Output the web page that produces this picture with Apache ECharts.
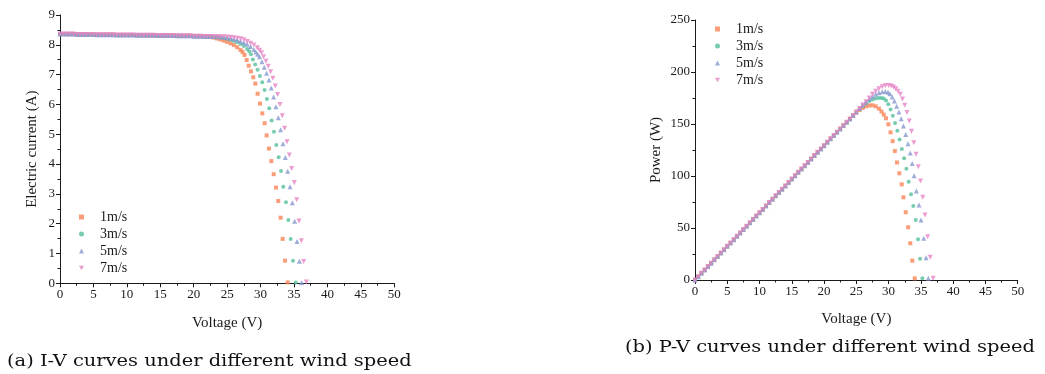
<!DOCTYPE html>
<html><head><meta charset="utf-8">
<script src="https://cdn.jsdelivr.net/npm/echarts/dist/echarts.min.js"></script>
<style>html,body{margin:0;padding:0;background:#fff;}#c{width:1045px;height:374px;}</style>
</head><body><div id="c"></div>
<script>
// ---------- Data ----------
const seriesNames = ['1m/s', '3m/s', '5m/s', '7m/s'];
const xTicks = [0, 5, 10, 15, 20, 25, 30, 35, 40, 45, 50];

// (a) I-V: region where the four curves coincide (voltage V, current A)
const ivSharedV = [0,0.5,1,1.5,2,2.5,3,3.5,4,4.5,5,5.5,6,6.5,7,7.5,8,8.5,9,9.5,10,10.5,11,11.5,12,12.5,13,13.5,14,14.5,15,15.5,16,16.5,17,17.5,18,18.5,19,19.5,20,20.5,21,21.5,22];
const ivSharedI = [8.36,8.36,8.36,8.36,8.36,8.35,8.35,8.35,8.35,8.35,8.35,8.34,8.34,8.34,8.34,8.34,8.34,8.33,8.33,8.33,8.33,8.33,8.33,8.32,8.32,8.32,8.32,8.32,8.32,8.31,8.31,8.31,8.31,8.31,8.31,8.30,8.30,8.30,8.30,8.30,8.29,8.29,8.29,8.28,8.28];
// (a) I-V: per wind speed, knee and drop
const iv1V = [22.5,23,23.5,24,24.5,25,25.5,26,26.5,27,27.3,27.6,27.92,28.22,28.56,28.91,29.21,29.56,29.91,30.26,30.61,30.91,31.25,31.6,31.96,32.3,32.65,33.0,33.3,33.65,34.05];
const iv1I = [8.26,8.24,8.21,8.18,8.14,8.1,8.05,7.99,7.92,7.83,7.76,7.66,7.49,7.30,7.11,6.91,6.70,6.36,6.03,5.70,5.37,4.96,4.52,4.10,3.66,3.21,2.76,2.2,1.49,0.76,0.03];
const iv3V = [22.5,23,23.5,24,24.5,25,25.5,26,26.5,27,27.5,28,28.3,28.55,28.85,29.2,29.55,29.9,30.25,30.6,30.95,31.3,31.65,32.0,32.35,32.7,33.05,33.4,33.8,34.15,34.5,34.85,35.25];
const iv3I = [8.28,8.27,8.26,8.25,8.23,8.2,8.17,8.13,8.09,8.03,7.96,7.86,7.78,7.68,7.51,7.34,7.16,6.95,6.74,6.48,6.18,5.87,5.46,5.08,4.64,4.23,3.77,3.24,2.72,2.12,1.49,0.76,0.03];
const iv5V = [22.5,23,23.5,24,24.5,25,25.5,26,26.5,27,27.5,28,28.5,29,29.3,29.55,29.85,30.2,30.55,30.9,31.25,31.6,31.95,32.3,32.65,33.0,33.35,33.7,34.05,34.4,34.75,35.1,35.45,35.8,36.15];
const iv5I = [8.28,8.28,8.27,8.26,8.25,8.24,8.22,8.2,8.17,8.13,8.08,8.02,7.94,7.84,7.76,7.68,7.6,7.43,7.25,7.05,6.82,6.55,6.25,5.92,5.55,5.15,4.68,4.22,3.76,3.24,2.7,2.08,1.4,0.74,0.02];
const iv7V = [22.5,23,23.5,24,24.5,25,25.5,26,26.5,27,27.5,28,28.5,29,29.5,29.85,30.15,30.45,30.8,31.15,31.5,31.85,32.2,32.55,32.9,33.25,33.6,33.95,34.3,34.65,35.05,35.4,35.75,36.1,36.45,36.85];
const iv7I = [8.28,8.28,8.28,8.27,8.27,8.26,8.25,8.24,8.22,8.2,8.17,8.11,8.05,7.99,7.9,7.82,7.73,7.6,7.45,7.28,7.1,6.88,6.62,6.33,6.0,5.62,5.2,4.75,4.3,3.85,3.38,2.8,2.09,1.43,0.73,0.04];

// (b) P-V: region where the four curves coincide (voltage V, power W)
const pvSharedV = [0,0.5,1,1.5,2,2.5,3,3.5,4,4.5,5,5.5,6,6.5,7,7.5,8,8.5,9,9.5,10,10.5,11,11.5,12,12.5,13,13.5,14,14.5,15,15.5,16,16.5,17,17.5,18,18.5,19,19.5,20,20.5,21,21.5,22,22.5,23,23.5,24,24.5];
const pvSharedP = [0,3.2,6.5,9.7,13,16.2,19.4,22.7,25.9,29.1,32.4,35.6,38.8,42.1,45.3,48.5,51.8,55,58.2,61.5,64.7,67.9,71.2,74.4,77.6,80.9,84.1,87.3,90.5,93.8,97,100.2,103.5,106.7,109.9,113.1,116.4,119.6,122.8,126,129.2,132.5,135.7,138.9,142.1,145.3,148.5,151.7,154.9,158.1];
// (b) P-V: per wind speed, peak and drop
const pv1V = [25,25.5,26,26.5,27,27.5,28,28.5,28.9,29.25,29.6,29.96,30.3,30.63,30.97,31.3,31.66,32.03,32.3,32.65,33.03,33.36,33.67,34.05];
const pv1P = [161,163.5,165.5,167,167.8,168,167,164.8,162,159,155.5,149.7,142,133.5,124,113,102.6,92,79.5,65.1,50.7,35.3,18.6,1.6];
const pv3V = [25,25.5,26,26.5,27,27.5,28,28.5,28.9,29.25,29.6,29.95,30.3,30.65,31.0,31.35,31.7,32.05,32.4,32.75,33.1,33.47,33.83,34.2,34.56,34.87,35.23];
const pv3P = [161.5,164.5,167.5,170,172,173.5,174.5,175,175,174.5,172.5,169,164,158,151,143.5,135,126,117,107,94.5,82.4,71.2,57.7,39.1,20.5,1.6];
const pv5V = [25,25.5,26,26.5,27,27.5,28,28.5,29,29.5,29.9,30.2,30.55,30.9,31.25,31.6,31.95,32.3,32.65,33.0,33.35,33.65,33.94,34.3,34.71,35.02,35.44,35.8,36.15];
const pv5P = [161.5,165,168,171,174,176.5,178.5,180,181,181.2,180.5,179,176,172,167,161.5,155,148,140,131,122,112,100.3,85.6,72.1,57.7,40.1,21.4,1.6];
const pv7V = [25,25.5,26,26.5,27,27.5,28,28.5,29,29.5,30,30.4,30.75,31.1,31.45,31.8,32.15,32.5,32.85,33.2,33.55,33.9,34.25,34.6,34.95,35.3,35.65,36.05,36.45,36.9];
const pv7P = [161.5,165,168.3,171.5,175,178.5,181.5,184,185.8,186.8,187,186.5,185.5,184,181.5,178.5,174,168,161,153,143,132,121,109,95.2,79.5,62.5,41.6,21.8,1.6];

const captions = ['(a) I-V curves under different wind speed', '(b) P-V curves under different wind speed'];

// ---------- Chart ----------
const colors = ['#f98456', '#55bf9c', '#8799cf', '#e683c4'];
const symbols = ['rect', 'circle', 'triangle', 'path://M0,0L10,0L5,9Z'];
const sizes = [4, 4, 5, 5];
const serif = 'Liberation Serif';
const ink = '#1a1a1a';

function zip(a, b) { return a.map((v, i) => [v, b[i]]); }

const ivData = [
  zip(ivSharedV, ivSharedI).concat(zip(iv1V, iv1I)),
  zip(ivSharedV, ivSharedI).concat(zip(iv3V, iv3I)),
  zip(ivSharedV, ivSharedI).concat(zip(iv5V, iv5I)),
  zip(ivSharedV, ivSharedI).concat(zip(iv7V, iv7I))
];
const pvData = [
  zip(pvSharedV, pvSharedP).concat(zip(pv1V, pv1P)),
  zip(pvSharedV, pvSharedP).concat(zip(pv3V, pv3P)),
  zip(pvSharedV, pvSharedP).concat(zip(pv5V, pv5P)),
  zip(pvSharedV, pvSharedP).concat(zip(pv7V, pv7P))
];

function axisCommon(extra) {
  return Object.assign({
    type: 'value',
    axisLine: { show: true, lineStyle: { color: ink, width: 1 } },
    axisTick: { show: true, length: 4, lineStyle: { color: ink } },
    minorTick: { show: true, splitNumber: 2, length: 2.5, lineStyle: { color: ink } },
    splitLine: { show: false },
    axisLabel: { fontFamily: serif, fontSize: 13, color: ink, margin: 5 },
    nameLocation: 'middle',
    nameTextStyle: { fontFamily: serif, fontSize: 15, color: ink }
  }, extra);
}

const series = [];
seriesNames.forEach((n, k) => {
  series.push({ type: 'scatter', name: n, xAxisIndex: 0, yAxisIndex: 0, data: ivData[k],
    symbol: symbols[k], symbolSize: sizes[k], itemStyle: { color: colors[k] }, silent: true });
});
seriesNames.forEach((n, k) => {
  series.push({ type: 'scatter', name: n, xAxisIndex: 1, yAxisIndex: 1, data: pvData[k],
    symbol: symbols[k], symbolSize: sizes[k], itemStyle: { color: colors[k] }, silent: true });
});

const legendCommon = {
  data: seriesNames, orient: 'vertical', itemWidth: 5, itemHeight: 5, itemGap: 3, padding: 0,
  selectedMode: false,
  textStyle: { fontFamily: serif, fontSize: 14, color: ink, lineHeight: 14, padding: [0, 0, 0, 11] }
};

const chart = echarts.init(document.getElementById('c'), null, { renderer: 'canvas' });
chart.setOption({
  animation: false,
  backgroundColor: '#fff',
  grid: [
    { left: 60, top: 15, width: 334.3, height: 268.3 },
    { left: 695, top: 20, width: 322.7, height: 260 }
  ],
  xAxis: [
    axisCommon({ gridIndex: 0, min: xTicks[0], max: xTicks[xTicks.length - 1], interval: 5, name: 'Voltage (V)', nameGap: 32 }),
    axisCommon({ gridIndex: 1, min: xTicks[0], max: xTicks[xTicks.length - 1], interval: 5, name: 'Voltage (V)', nameGap: 32 })
  ],
  yAxis: [
    axisCommon({ gridIndex: 0, min: 0, max: 9, interval: 1, name: 'Electric current (A)', nameGap: 20 }),
    axisCommon({ gridIndex: 1, min: 0, max: 250, interval: 50, name: 'Power (W)', nameGap: 31 })
  ],
  legend: [
    Object.assign({ left: 79, top: 210 }, legendCommon),
    Object.assign({ left: 715, top: 22 }, legendCommon)
  ],
  series: series,
  graphic: [
    { type: 'text', x: 7, y: 352, scaleX: 1.11, style: { text: captions[0], font: '17.5px "DejaVu Serif"', fill: '#111' } },
    { type: 'text', x: 625, y: 338, scaleX: 1.11, style: { text: captions[1], font: '17.5px "DejaVu Serif"', fill: '#111' } }
  ]
});
</script></body></html>
